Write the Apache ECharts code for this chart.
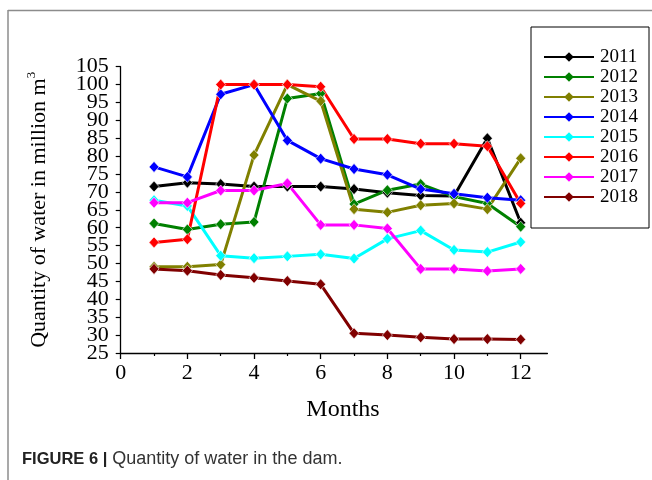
<!DOCTYPE html>
<html>
<head>
<meta charset="utf-8">
<script src="https://cdn.jsdelivr.net/npm/echarts@6/dist/echarts.min.js"></script>
<style>
  html, body { margin: 0; padding: 0; background: #fff; }
  #chart { width: 652px; height: 480px; }
</style>
</head>
<body>
<div id="chart"></div>
<script>
// Monthly stored water volume (million m³), one series per year
const months = [1, 2, 3, 4, 5, 6, 7, 8, 9, 10, 11, 12];
const years = ['2011', '2012', '2013', '2014', '2015', '2016', '2017', '2018'];
const colors = ['#000000', '#008000', '#808000', '#0000ff', '#00ffff', '#ff0000', '#ff00ff', '#800000'];

const y2011 = [71.5, 72.6, 72.2, 71.5, 71.5, 71.5, 70.8, 69.8, 69.0, 68.9, 85.0, 61.4];
const y2012 = [61.2, 59.5, 61.0, 61.6, 96.1, 97.5, 66.6, 70.5, 72.2, 68.7, 66.8, 60.3];
const y2013 = [49.1, 49.1, 49.7, 80.3, 100.0, 95.4, 65.2, 64.3, 66.3, 66.8, 65.2, 79.4];
const y2014 = [77.0, 74.2, 97.3, 100.0, 84.4, 79.3, 76.4, 74.8, 70.8, 69.5, 68.4, 67.7];
const y2015 = [67.7, 66.1, 52.2, 51.5, 52.0, 52.6, 51.4, 56.9, 59.2, 53.8, 53.2, 56.0];
const y2016 = [55.9, 56.8, 100.0, 100.0, 100.0, 99.4, 84.8, 84.8, 83.5, 83.5, 82.8, 66.8];
const y2017 = [67.0, 67.0, 70.4, 70.4, 72.4, 60.8, 60.8, 59.8, 48.5, 48.5, 47.9, 48.5];
const y2018 = [48.5, 48.0, 46.8, 46.0, 45.1, 44.2, 30.5, 30.0, 29.4, 28.9, 28.9, 28.8];
const seriesValues = [y2011, y2012, y2013, y2014, y2015, y2016, y2017, y2018];

const xTicks = [0, 2, 4, 6, 8, 10, 12];
const yTicks = [25, 30, 35, 40, 45, 50, 55, 60, 65, 70, 75, 80, 85, 90, 95, 100, 105];
const yMin = 25, yMax = 105, yStep = 5;

const serif = '"Liberation Serif", "Times New Roman", serif';
const sans = '"Liberation Sans", Arial, sans-serif';

// The y labels sit very close together, so they are split over two
// overlaid axes (every other label on each) to keep all of them drawn.
const yLabelsA = yTicks.filter((v, i) => i % 2 === 0);   // 25, 35, ... 105
const yLabelsB = yTicks.filter((v, i) => i % 2 === 1);   // 30, 40, ... 100

const chart = echarts.init(document.getElementById('chart'), null, { renderer: 'canvas' });

const series = years.map((name, i) => ({
  name: name,
  type: 'line',
  xAxisIndex: 1,
  yAxisIndex: 1,
  data: months.map((m, j) => [m, seriesValues[i][j]]),
  symbol: 'diamond',
  symbolSize: [10, 11],
  showSymbol: true,
  lineStyle: { color: colors[i], width: 3 },
  itemStyle: { color: colors[i], borderColor: '#ffffff', borderWidth: 0.6 },
  emphasis: { disabled: true },
  animation: false
}));

const yLabelStyle = { color: '#000', fontFamily: serif, fontSize: 22, margin: 12 };

chart.setOption({
  animation: false,
  backgroundColor: '#ffffff',
  // Grid 0 carries the visible axis lines (x line runs a bit past 12);
  // grid 1 carries the data plus the x ticks and labels at 0..12.
  grid: [
    { left: 120.7, right: 104.6, top: 66.7, bottom: 127 },
    { left: 120.7, width: 400, top: 66.7, bottom: 127 }
  ],
  xAxis: [
    {
      gridIndex: 0, type: 'value', min: 0, max: 12.8,
      axisLine: { show: true, lineStyle: { color: '#000', width: 1.3 } },
      axisTick: { show: false }, axisLabel: { show: false },
      splitLine: { show: false }
    },
    {
      gridIndex: 1, type: 'value', min: 0, max: 12, interval: 2,
      axisLine: { show: false },
      axisTick: { show: true, inside: false, length: 6, lineStyle: { color: '#000', width: 1.3 } },
      minorTick: { show: true, splitNumber: 2, length: 3, lineStyle: { color: '#000', width: 1.2 } },
      axisLabel: {
        show: true, margin: 9, color: '#000', fontFamily: serif, fontSize: 22,
        showMinLabel: true, showMaxLabel: true, hideOverlap: false,
        formatter: v => (xTicks.indexOf(v) >= 0 ? String(v) : '')
      },
      splitLine: { show: false }
    }
  ],
  yAxis: [
    {
      gridIndex: 0, type: 'value', min: yMin, max: yMax, interval: yStep,
      axisLine: { show: true, lineStyle: { color: '#000', width: 1.3 } },
      axisTick: { show: true, inside: false, length: 5, lineStyle: { color: '#000', width: 1.2 } },
      axisLabel: Object.assign({
        show: true, showMinLabel: true, showMaxLabel: true, hideOverlap: false,
        formatter: v => (yLabelsA.indexOf(v) >= 0 ? String(v) : '')
      }, yLabelStyle),
      splitLine: { show: false },
      name: '{t|Quantity of water in million m}{s|3}',
      nameLocation: 'middle',
      nameGap: 70,
      nameRotate: 90,
      nameTextStyle: {
        rich: {
          t: { fontFamily: serif, fontSize: 22, color: '#000', lineHeight: 26, verticalAlign: 'bottom' },
          s: { fontFamily: serif, fontSize: 13, color: '#000', lineHeight: 26, verticalAlign: 'top' }
        }
      }
    },
    {
      gridIndex: 1, type: 'value', min: yMin, max: yMax, interval: yStep,
      position: 'left',
      axisLine: { show: false }, axisTick: { show: false },
      axisLabel: Object.assign({
        show: true, showMinLabel: false, showMaxLabel: false, hideOverlap: false,
        formatter: v => (yLabelsB.indexOf(v) >= 0 ? String(v) : '')
      }, yLabelStyle),
      splitLine: { show: false }
    }
  ],
  legend: {
    data: years,
    orient: 'vertical',
    left: 531, top: 27,
    padding: [20, 11, 21, 12],
    itemWidth: 50, itemHeight: 12, itemGap: 0,
    borderColor: '#000', borderWidth: 1,
    backgroundColor: '#ffffff',
    selectedMode: false,
    textStyle: { fontFamily: serif, fontSize: 19, color: '#000', lineHeight: 20, padding: [0, 0, 0, 1] },
    itemStyle: { borderWidth: 0 }
  },
  title: [
    {
      text: 'Months', left: 338, top: 393, textAlign: 'center',
      textStyle: { fontFamily: serif, fontSize: 24, fontWeight: 'normal', color: '#000' }
    },
    {
      text: '{b|FIGURE 6 |} {n|Quantity of water in the dam.}',
      left: 22, top: 450, padding: 0,
      textStyle: {
        fontWeight: 'normal',
        rich: {
          b: { fontFamily: sans, fontSize: 16.5, fontWeight: 'bold', color: '#222' },
          n: { fontFamily: sans, fontSize: 18, fontWeight: 'normal', color: '#333' }
        }
      }
    }
  ],
  graphic: [
    // Page frame: thin grey rule on the left and along the top
    { type: 'line', shape: { x1: 8, y1: 10.5, x2: 652, y2: 10.5 }, style: { stroke: '#8c8c8c', lineWidth: 1.5 }, silent: true },
    { type: 'line', shape: { x1: 8, y1: 10, x2: 8, y2: 480 }, style: { stroke: '#8c8c8c', lineWidth: 1.5 }, silent: true }
  ],
  series: series
});
</script>
</body>
</html>
